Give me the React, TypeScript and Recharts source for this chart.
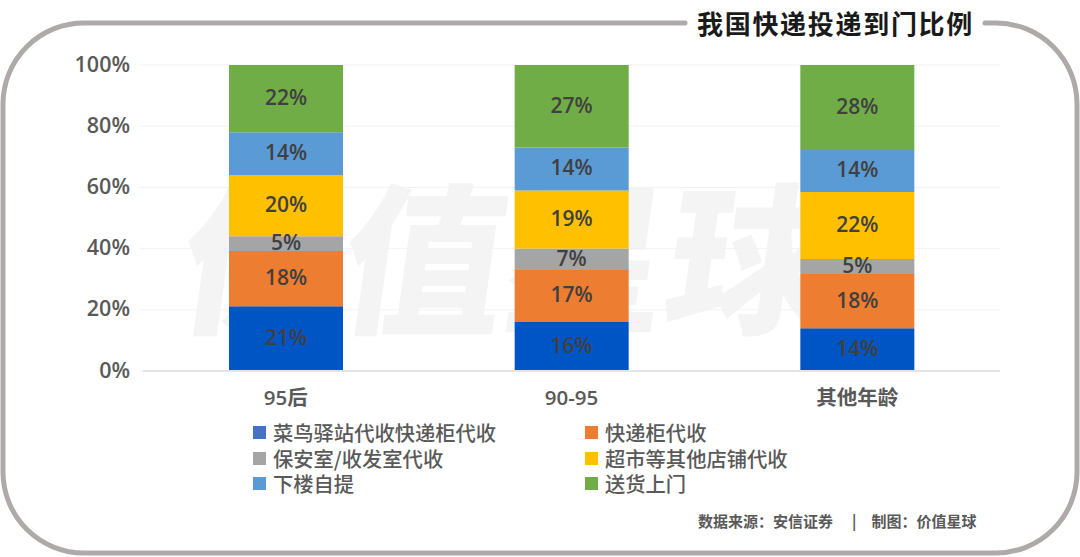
import { BarChart, Bar, XAxis, YAxis, CartesianGrid, LabelList, Legend } from 'recharts'

const ageGroups = ['95后', '90-95', '其他年龄']
const seriesNames = ['菜鸟驿站代收快递柜代收', '快递柜代收', '保安室/收发室代收', '超市等其他店铺代收', '下楼自提', '送货上门']
const yTicks = [0, 20, 40, 60, 80, 100]

const cainiao = [21.2, 16, 14]
const locker = [18, 17, 17.7]
const guard = [4.8, 7, 4.9]
const shop = [20, 19, 21.9]
const selfPick = [14, 14, 13.7]
const door = [22, 27, 27.8]

const barColors = ['#0055c5', '#ed7d31', '#a5a5a5', '#ffc000', '#5b9bd5', '#70ad47']
const legendColors = ['#4472c4', '#ed7d31', '#a5a5a5', '#ffc000', '#5b9bd5', '#70ad47']

const seriesValues = [cainiao, locker, guard, shop, selfPick, door]
const chartData = ageGroups.map((name, i) => {
  const row: Record<string, string | number> = { name }
  seriesNames.forEach((s, j) => {
    row[s] = seriesValues[j][i]
  })
  return row
})

const fontStack = '"Open Sans", "Noto Sans CJK SC", sans-serif'
const cjkStack = '"Noto Sans CJK SC", sans-serif'

function LegendGrid() {
  return (
    <div style={{ display: 'grid', gridTemplateColumns: '332px 1fr', fontFamily: cjkStack, fontSize: 20.3, lineHeight: '25.5px', color: '#595959', fontWeight: 500 }}>
      {seriesNames.map((s, i) => (
        <div key={s} style={{ display: 'flex', alignItems: 'center', whiteSpace: 'nowrap' }}>
          <span style={{ width: 13, height: 13, background: legendColors[i], marginRight: 7, flex: 'none' }} />
          {s}
        </div>
      ))}
    </div>
  )
}

export default function App() {
  return (
    <div style={{ position: 'fixed', left: 0, top: 0, width: 1080, height: 557, background: '#fff', overflow: 'hidden' }}>
      <div style={{ position: 'absolute', left: 184, top: 141, fontFamily: cjkStack, fontWeight: 900, fontSize: 162, lineHeight: '220px', color: '#f4f4f4', whiteSpace: 'nowrap', transform: 'skewX(-8deg)' }}>
        价值星球
      </div>
      <svg width={1080} height={557} style={{ position: 'absolute', left: 0, top: 0 }}>
        <path
          d="M 685 23 H 84 A 81 81 0 0 0 3 104 V 472 A 81 81 0 0 0 84 553 H 996 A 81 81 0 0 0 1077 472 V 104 A 81 81 0 0 0 996 23 H 985"
          fill="none"
          stroke="#aeaaaa"
          strokeWidth={5}
          strokeLinecap="round"
        />
      </svg>
      <div style={{ position: 'absolute', left: 697, top: 4, fontFamily: cjkStack, fontWeight: 700, fontSize: 26, lineHeight: '38px', letterSpacing: 1.7, color: '#1a1a1a', whiteSpace: 'nowrap' }}>
        我国快递投递到门比例
      </div>
      <div style={{ position: 'absolute', left: 698, top: 511, fontFamily: cjkStack, fontWeight: 700, fontSize: 15, lineHeight: '20px', color: '#595959', whiteSpace: 'nowrap' }}>
        数据来源：安信证券
        <span style={{ marginLeft: 19, marginRight: 15 }}>|</span>
        制图：价值星球
      </div>
      <div style={{ position: 'absolute', left: 0, top: 0 }}>
        <BarChart
          width={1080}
          height={557}
          data={chartData}
          barSize={114}
          margin={{ top: 65, right: 80, bottom: 78, left: 0 }}
        >
          <CartesianGrid vertical={false} stroke="#f2f2f2" />
          <XAxis
            dataKey="name"
            height={30}
            axisLine={{ stroke: '#e4e4e4', strokeWidth: 2 }}
            tickLine={false}
            tickMargin={13}
            tick={{ fontSize: 20.5, fill: '#595959', fontWeight: 600, fontFamily: fontStack }}
          />
          <YAxis
            width={143}
            domain={[0, 100]}
            ticks={yTicks}
            axisLine={false}
            tickLine={{ stroke: '#f2f2f2' }}
            tickSize={4}
            tickMargin={9}
            tickFormatter={(v: number) => `${v}%`}
            tick={{ fontSize: 21.5, fill: '#595959', fontWeight: 600, fontFamily: fontStack, dy: -1 }}
          />
          <Legend
            verticalAlign="bottom"
            height={78}
            wrapperStyle={{ left: 253, top: 420, width: 700 }}
            content={() => <LegendGrid />}
          />
          {seriesNames.map((s, i) => (
            <Bar key={s} dataKey={s} stackId="a" fill={barColors[i]} isAnimationActive={false}>
              <LabelList
                dataKey={s}
                position="center"
                offset={0}
                formatter={(v: number) => `${Math.round(v)}%`}
                style={{ fontSize: 21, fill: '#404040', fontWeight: 600, fontFamily: fontStack, transform: 'translateY(-1px)' }}
              />
            </Bar>
          ))}
        </BarChart>
      </div>
    </div>
  )
}
